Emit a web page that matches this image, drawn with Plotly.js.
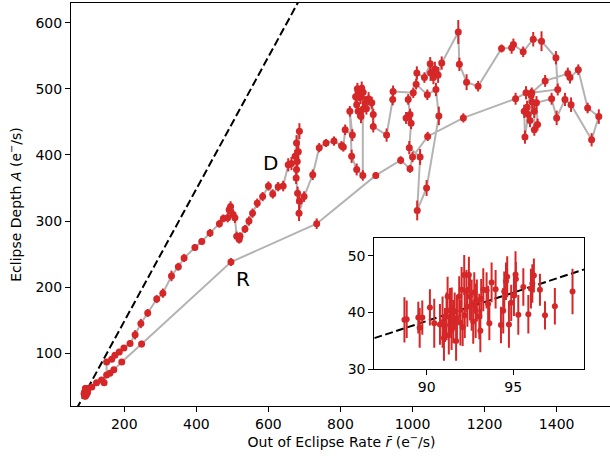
<!DOCTYPE html>
<html>
<head>
<meta charset="utf-8">
<script src="https://cdn.plot.ly/plotly-3.0.1.min.js"></script>
<style>
html,body{margin:0;padding:0;overflow:hidden;background:#fff;}
#plot{width:614px;height:456px;}
</style>
</head>
<body>
<div id="plot"></div>
<script>
// ---- Low-rate cluster (also shown in the inset) ----
const clusterR = [88.72,88.85,89.52,89.6,89.75,90.19,90.44,90.77,90.92,91.06,91.15,91.21,91.28,91.35,91.44,91.54,91.62,91.75,91.88,92.02,92.08,92.17,92.3,92.44,92.5,92.6,92.69,92.75,92.83,92.9,93.04,93.15,93.27,93.46,93.62,93.75,93.98,94.29,94.42,94.48,94.58,94.65,94.75,94.88,95.04,95.13,95.15,95.29,95.58,95.87,96.02,96.1,96.19,96.54,96.83,97.4,98.42,91.0,91.7,92.2,93.1,92.35,91.45,93.55,91.95];
const clusterA = [38.7,38.8,39.1,37.3,39.1,40.9,38.1,37.9,38.3,37.8,39.3,42.8,36.0,40.3,36.9,38.4,40.2,39.0,42.8,44.0,37.4,46.6,43.8,46.6,42.8,41.3,38.4,43.5,40.3,42.1,39.3,42.4,44.0,43.9,38.1,45.3,44.1,37.8,40.3,43.7,45.5,46.3,37.9,41.7,43.0,46.7,45.9,39.6,44.5,39.7,44.2,45.1,46.5,44.0,39.5,41.1,43.7,35.5,35.0,39.5,36.8,41.0,40.8,41.5,38.2];
const clusterErr = [4.0,3.3,2.8,3.5,3.0,3.2,4.3,3.6,4.5,3.0,4.2,3.5,3.4,4.0,3.5,3.8,3.3,4.1,3.6,4.0,3.3,3.5,3.7,3.2,4.2,4.5,3.9,3.6,4.8,3.7,4.0,3.5,3.8,3.2,3.0,3.5,3.4,3.2,4.0,3.5,3.3,3.6,4.1,3.2,3.6,4.1,3.0,3.5,3.3,3.4,3.5,3.4,3.0,2.8,2.5,3.2,4.0,4.0,3.5,4.0,3.8,3.5,3.6,3.2,4.0];

// ---- Rise branch (R) ----
const riseR = [98,110,123,137,144,151,160,171,193,248,496,734,898,967,993,1000,1042,1141,1286];
const riseA = [44,49,55.5,59.5,55.5,67,70,75,87,114,238,296,369,392,379,397,428,456,485];
const riseErr = [3,3,3,3,3,4,4,4,4,5,6,8,5,6,6,8,7,7,9];

// ---- Peak region and return ----
const peakR = [1315,1329,1310,1312,1321,1318,1326,1332,1338,1338,1347,1344,1386,1400,1423,1440,1497,1517,1486,1460,1437,1431,1368,1331,1403,1398,1358,1335,1307,1280,1275,1247,1182,1150,1130,1127,1081,1071,1062,1058,1050,1049,1033,1012,1010,1041,1065,1073,1039,1013,1021,991,996,982,993,988,1002,946,945,928,891,887,891,878,872,868,863,855,859,847,842,850,845,849,857,862,862,845,831,826,833,813,808,803,782,760,741,723,699];
const peakA = [494,490,466,427,461,472,452,480,466,438,446,479,485,456,484,476,423,458,471,529,517,523,512,494,499,547,572,575,556,567,562,561,504,510,537,586,539,521,530,517,524,538,517,524,507,491,499,459,350,316,397,411,448,456,461,484,494,496,484,430,443,479,461,485,470,479,495,487,501,500,488,492,476,466,458,469,369,378,398,466,430,438,412,414,421,418,411,370,337];
const peakErr = [10,10,10,10,10,10,10,10,10,9,9,10,9,11,10,11,10,11,8,8,9,9,9,8,9,10,15,11,8,9,9,6,8,12,10,18,10,12,11,10,12,10,8,10,8,8,10,14,12,15,12,10,9,9,9,8,8,9,9,10,9,9,9,10,9,10,11,10,10,9,10,10,10,10,10,12,8,9,10,8,9,8,7,7,7,6,7,8,8];

// ---- Decay branch (D) ----
const decayR = [685,686,681,677,678,686,678,683,674,680,664,655,641,627,612,600,584,569,556,546,535,521,519,512,507,502,495,491,487,475,464,438,415,396,366,350,331,307,290,265,246,230,216,199,186,174,165,151];
const decayA = [312,330,342,365,378,436,418,405,398,390,387,385,353,352,341,353,337,327,312,300,288,277,272,277,305,310,322,317,305,304,296,282,269,260,244,231,217,191,182,161,145,128,115,108,102,97,91,87];
const decayErr = [12,10,10,9,10,12,12,12,10,10,10,10,8,7,7,7,7,7,7,7,6,6,6,7,8,8,8,7,7,6,6,6,5,5,6,6,8,7,6,6,7,7,5,4,4,4,4,4];

// ---- Reference line A = r - offset ----
const lineOffset = 51.5;
const mainXRange = [52.1, 1553.6];
const mainYRange = [20.3, 629.8];
const insetXRange = [86.98, 99.08];
const insetYRange = [30, 53.06];

// ---- Tick labels ----
const mainXTicks = [200,400,600,800,1000,1200,1400];
const mainYTicks = [100,200,300,400,500,600];
const insetXTicks = [90,95];
const insetYTicks = [30,40,50];

const red = '#d62728';
const gray = '#b3b3b3';

// full path: rise -> peak -> decay -> back to junction on rise branch
const junction = 5;
const pathR = riseR.concat(peakR, decayR, [riseR[junction]]);
const pathA = riseA.concat(peakA, decayA, [riseA[junction]]);
const allR = clusterR.concat(riseR, peakR, decayR);
const allA = clusterA.concat(riseA, peakA, decayA);
const allErr = clusterErr.concat(riseErr, peakErr, decayErr);

const traces = [
  {x: mainXRange, y: mainXRange.map(v => v - lineOffset), mode: 'lines',
   line: {color: 'black', width: 2, dash: '8px,3.5px'}, xaxis: 'x', yaxis: 'y', hoverinfo: 'skip'},
  {x: pathR, y: pathA, mode: 'lines', line: {color: gray, width: 2}, xaxis: 'x', yaxis: 'y'},
  {x: allR, y: allA, mode: 'markers', marker: {color: red, size: 7},
   error_y: {type: 'data', array: allErr, visible: true, color: red, thickness: 2, width: 0},
   xaxis: 'x', yaxis: 'y'},
  {x: insetXRange, y: insetXRange.map(v => v - lineOffset), mode: 'lines',
   line: {color: 'black', width: 2, dash: '8px,3.5px'}, xaxis: 'x2', yaxis: 'y2'},
  {x: clusterR, y: clusterA, mode: 'markers', marker: {color: red, size: 6},
   error_y: {type: 'data', array: clusterErr, visible: true, color: red, thickness: 2, width: 0},
   xaxis: 'x2', yaxis: 'y2'}
];

const font = {family: 'DejaVu Sans, sans-serif', size: 14, color: 'black'};
const axisCommon = {showgrid: false, zeroline: false, showline: true, mirror: true,
  linecolor: 'black', linewidth: 1, ticks: 'outside', ticklen: 5, tickwidth: 1,
  tickcolor: 'black', tickfont: font};

const layout = {
  width: 614, height: 456,
  margin: {l: 71, r: 2, t: 3, b: 50},
  paper_bgcolor: 'white', plot_bgcolor: 'white',
  showlegend: false, font: font,
  xaxis: Object.assign({}, axisCommon, {range: mainXRange, domain: [0, 1], anchor: 'y',
    tickvals: mainXTicks,
    title: {text: 'Out of Eclipse Rate <i>r̄</i> (e<sup>−</sup>/s)', font: font, standoff: 6}}),
  yaxis: Object.assign({}, axisCommon, {range: mainYRange, domain: [0, 1], anchor: 'x',
    tickvals: mainYTicks,
    title: {text: 'Eclipse Depth <i>A</i> (e<sup>−</sup>/s)', font: font, standoff: 10}}),
  xaxis2: Object.assign({}, axisCommon, {range: insetXRange, domain: [0.5606, 0.9482], anchor: 'y2',
    tickvals: insetXTicks}),
  yaxis2: Object.assign({}, axisCommon, {range: insetYRange, domain: [0.0911, 0.4161], anchor: 'x2',
    tickvals: insetYTicks}),
  annotations: [
    {x: 607, y: 388, xref: 'x', yref: 'y', text: 'D', showarrow: false,
     font: {family: 'DejaVu Sans, sans-serif', size: 20, color: 'black'}},
    {x: 530, y: 212, xref: 'x', yref: 'y', text: 'R', showarrow: false,
     font: {family: 'DejaVu Sans, sans-serif', size: 20, color: 'black'}}
  ]
};

Plotly.newPlot('plot', traces, layout, {staticPlot: true, displayModeBar: false});
</script>
</body>
</html>
